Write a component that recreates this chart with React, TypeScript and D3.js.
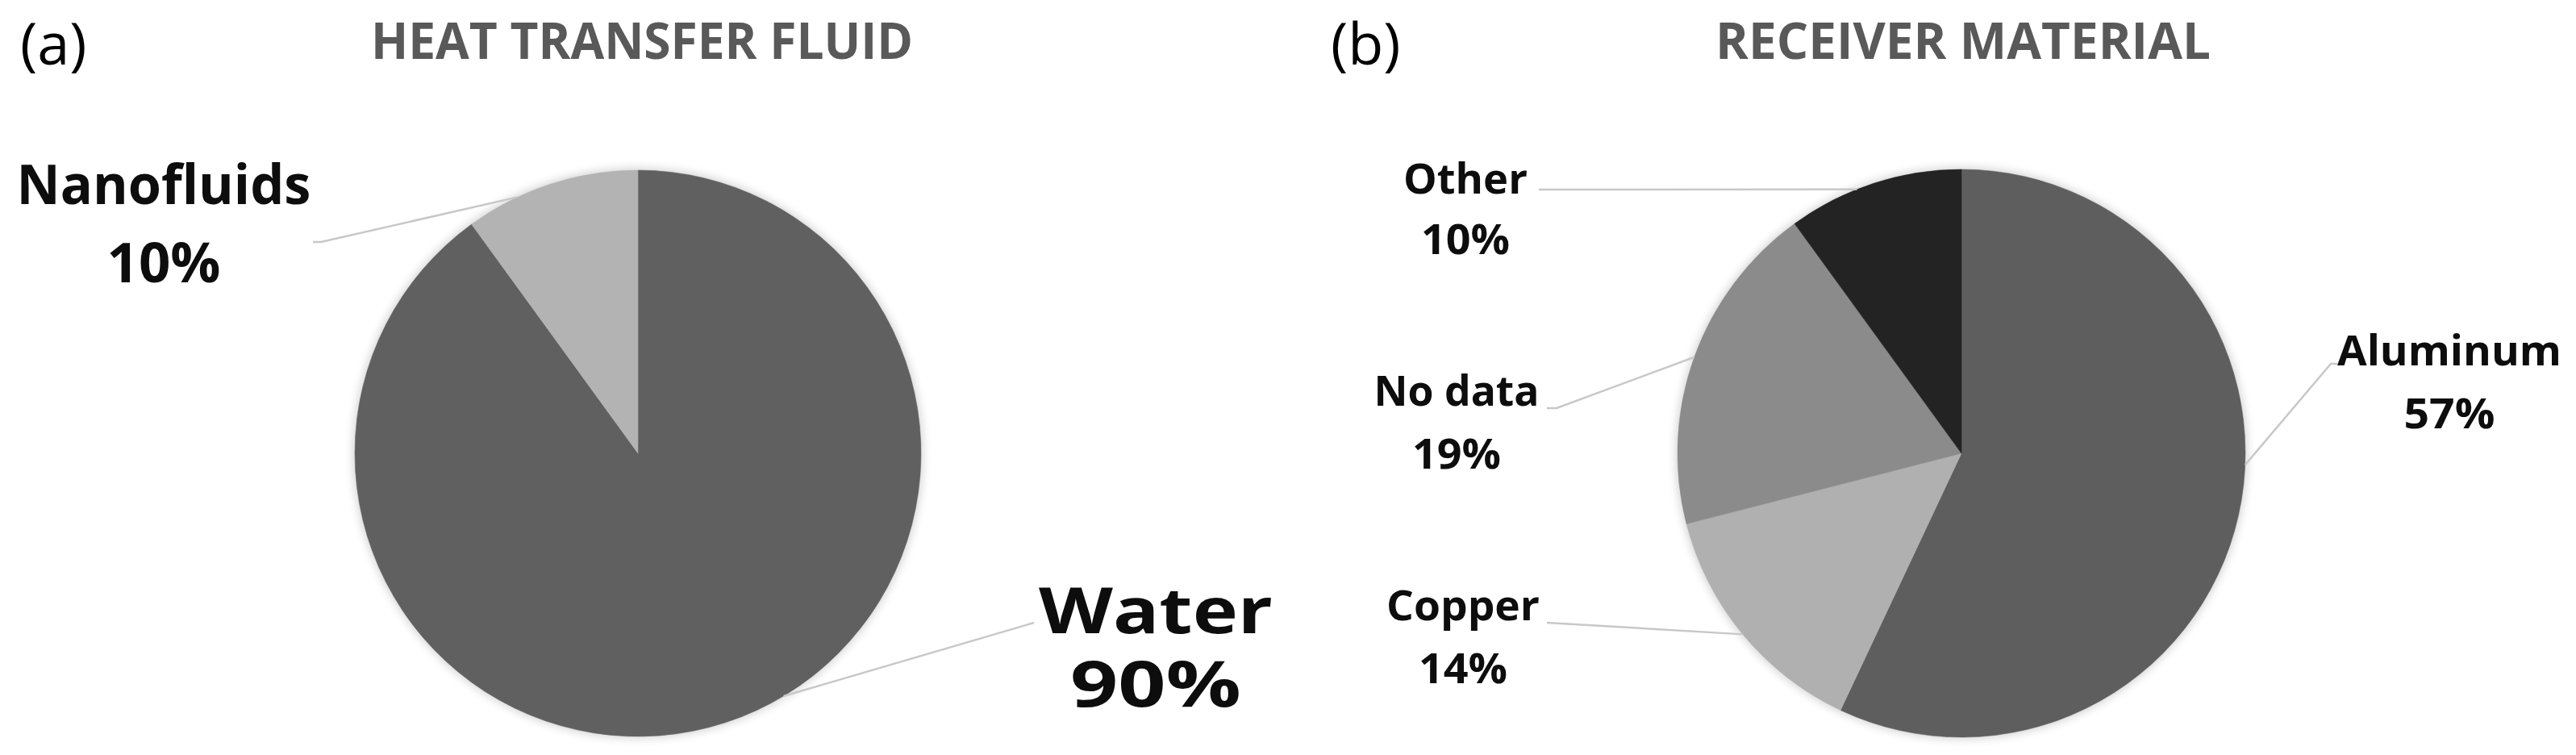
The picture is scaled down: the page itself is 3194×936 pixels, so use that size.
import React from 'react';
import * as d3 from 'd3';

// ---- data ----
const fluidCategories = ['Water', 'Nanofluids'];
const fluidValues = [90, 10];
const fluidColors = ['#606060', '#b3b3b3'];

const materialCategories = ['Aluminum', 'Copper', 'No data', 'Other'];
const materialValues = [57, 14, 19, 10];
const materialColors = ['#5e5e5e', '#b0b0b0', '#8b8b8b', '#232323'];

const panelTags = ['(a)', '(b)'];
const panelTitles = ['HEAT TRANSFER FLUID', 'RECEIVER MATERIAL'];

// ---- layout ----
const W = 3194;
const H = 936;

type LabelLayout = {
  cx: number; nameY: number; pctY: number; size: number;
  nameW: number; pctW: number;
  line: [number, number][]; frac: number;
};

const fluidLayout: LabelLayout[] = [
  { cx: 1433, nameY: 785, pctY: 876, size: 78, nameW: 290, pctW: 212, line: [[1282, 772]], frac: 0.46 },
  { cx: 203, nameY: 253, pctY: 350, size: 68, nameW: 365, pctW: 141, line: [[388, 300], [398, 300]], frac: 0.3 },
];
const materialLayout: LabelLayout[] = [
  { cx: 3037, nameY: 453, pctY: 531, size: 52, nameW: 278, pctW: 113, line: [[2898, 451], [2890, 451]], frac: 0.45 },
  { cx: 1814, nameY: 769, pctY: 847, size: 52, nameW: 190, pctW: 110, line: [[1918, 772]], frac: 0.5 },
  { cx: 1806, nameY: 503, pctY: 581, size: 52, nameW: 205, pctW: 110, line: [[1918, 506], [1930, 506]], frac: 0.5 },
  { cx: 1817, nameY: 240, pctY: 315, size: 52, nameW: 154, pctW: 110, line: [[1908, 235]], frac: 0.4 },
];

const panels = [
  {
    tag: panelTags[0], tagX: 25, title: panelTitles[0], titleX: 460, titleW: 672,
    cx: 791, cy: 562, r: 351,
    cats: fluidCategories, vals: fluidValues, colors: fluidColors, layout: fluidLayout,
  },
  {
    tag: panelTags[1], tagX: 1650, title: panelTitles[1], titleX: 2127, titleW: 614,
    cx: 2432, cy: 562, r: 352,
    cats: materialCategories, vals: materialValues, colors: materialColors, layout: materialLayout,
  },
];

const FONT = "'Open Sans', 'Noto Sans', 'DejaVu Sans', sans-serif";

function PiePanel({ p, idx }: { p: typeof panels[number]; idx: number }) {
  const pie = d3.pie<number>().sort(null).value((d) => d);
  const arcs = pie(p.vals);
  const arc = d3.arc<d3.PieArcDatum<number>>().innerRadius(0).outerRadius(p.r);
  const total = d3.sum(p.vals);
  const fmt = (v: number) => `${Math.round((v / total) * 100)}%`;

  return (
    <g>
      <text x={p.tagX} y={80} fontFamily={FONT} fontSize={72} fill="#000">{p.tag}</text>
      <text x={p.titleX} y={73} fontFamily={FONT} fontSize={63} fontWeight="bold" fill="#595959"
        textLength={p.titleW} lengthAdjust="spacingAndGlyphs">{p.title}</text>

      <g transform={`translate(${p.cx},${p.cy})`}>
        <circle r={p.r + 2} fill="#000" opacity={0.18} filter={`url(#shadow${idx})`} />
        {arcs.map((a, i) => (
          <path key={i} d={arc(a) || ''} fill={p.colors[i]} stroke={p.colors[i]} strokeWidth={0.5} />
        ))}
      </g>

      {arcs.map((a, i) => {
        const L = p.layout[i];
        const ang = a.startAngle + (a.endAngle - a.startAngle) * L.frac;
        const ex = p.cx + p.r * Math.sin(ang);
        const ey = p.cy - p.r * Math.cos(ang);
        const pts: [number, number][] = [...L.line, [ex, ey]];
        const line = d3.line()(pts) || '';
        return (
          <g key={'l' + i}>
            <path d={line} fill="none" stroke="#c8c8c8" strokeWidth={2.5} />
            <text x={L.cx} y={L.nameY} textAnchor="middle" fontFamily={FONT} fontWeight="bold"
              fontSize={L.size} fill="#0d0d0d" textLength={L.nameW} lengthAdjust="spacingAndGlyphs">
              {p.cats[i]}
            </text>
            <text x={L.cx} y={L.pctY} textAnchor="middle" fontFamily={FONT} fontWeight="bold"
              fontSize={L.size} fill="#0d0d0d" textLength={L.pctW} lengthAdjust="spacingAndGlyphs">
              {fmt(p.vals[i])}
            </text>
          </g>
        );
      })}
    </g>
  );
}

export default function App() {
  React.useEffect(() => {
    document.body.style.margin = '0';
  }, []);
  return (
    <svg width={W} height={H} viewBox={`0 0 ${W} ${H}`}
      style={{ position: 'absolute', left: 0, top: 0, background: '#fff', display: 'block' }}>
      <defs>
        {panels.map((_, i) => (
          <filter key={i} id={`shadow${i}`} x="-20%" y="-20%" width="140%" height="140%">
            <feGaussianBlur stdDeviation={6} />
          </filter>
        ))}
      </defs>
      <rect width={W} height={H} fill="#fff" />
      {panels.map((p, i) => <PiePanel key={i} p={p} idx={i} />)}
    </svg>
  );
}
